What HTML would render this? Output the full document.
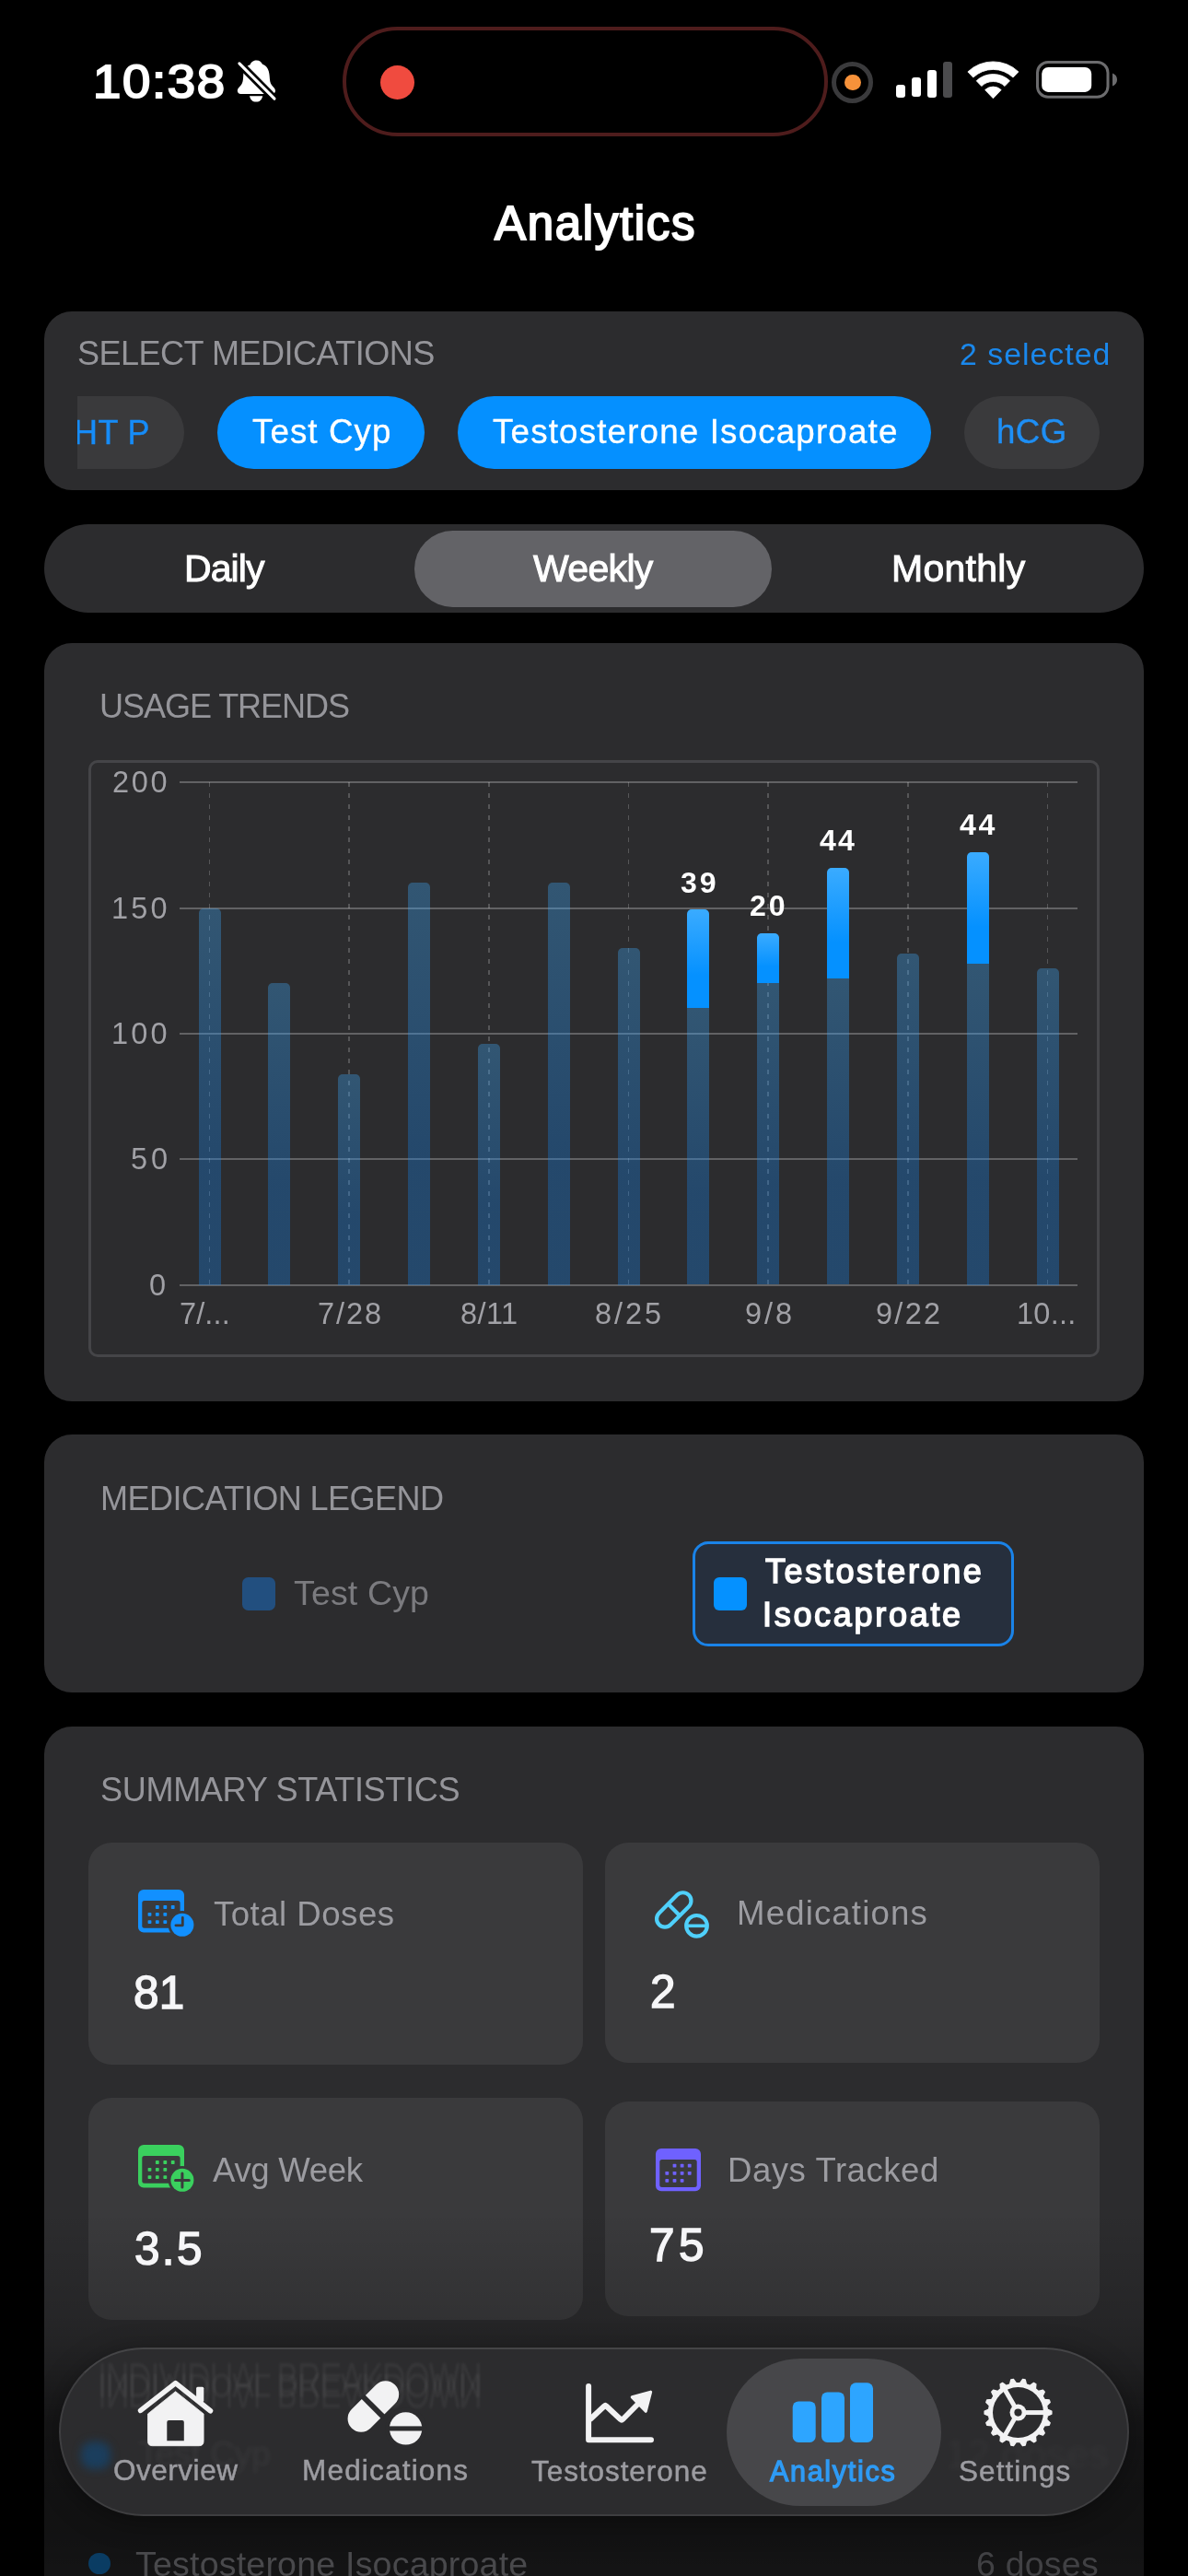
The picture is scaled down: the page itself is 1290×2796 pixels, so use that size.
<!DOCTYPE html>
<html><head><meta charset="utf-8"><title>Analytics</title>
<style>
html,body{margin:0;padding:0;background:#000;}
body{width:1290px;height:2796px;position:relative;overflow:hidden;font-family:"Liberation Sans",sans-serif;}
.abs{position:absolute;}
.t{position:absolute;line-height:1;white-space:nowrap;will-change:transform;}
.card{position:absolute;background:#2c2c2e;}
.chip{position:absolute;top:430px;height:79px;border-radius:40px;}
.tile{position:absolute;background:#3a3a3c;border-radius:25px;}
.bar{position:absolute;width:24px;background:linear-gradient(rgba(62,172,255,0.33) 0%,rgba(20,132,238,0.32) 67%,rgba(20,132,238,0.32) 100%);border-radius:5px 5px 0 0;}
.hi{position:absolute;width:24px;border-radius:5px 5px 0 0;background:linear-gradient(#3aabff 0%,#0591ff 67%,#0591ff 100%);}
.gl{position:absolute;left:195px;width:975px;height:2px;background:rgba(255,255,255,0.26);}
.vl{position:absolute;top:849px;height:546px;width:1.8px;background:repeating-linear-gradient(to bottom,rgba(255,255,255,0.20) 0,rgba(255,255,255,0.20) 5.5px,transparent 5.5px,transparent 12px);}
svg{position:absolute;overflow:visible;}
</style></head>
<body>
<!-- STATUS BAR -->
<div class="abs" style="left:371.5px;top:29px;width:519px;height:110.5px;border:4px solid #4e1c1c;border-radius:60px;background:#000;"></div>
<div class="abs" style="left:412.5px;top:70.7px;width:37px;height:37px;border-radius:50%;background:#f04b3f;"></div>
<svg style="left:257px;top:65px;" width="44" height="47" viewBox="0 0 44 47" ><path fill="#fff" d="M21.4,0.5 C17.5,0.5 15.5,3 14.6,5.2 C9.5,7 7.5,11 7.2,17 C7,22 6.5,25 5,27 C3,29.5 0.8,31 0.8,33.5 C0.8,35.5 2.3,36.9 4.5,36.9 L38.5,36.9 C40.5,36.9 42,35.5 42,33.5 C42,31 39.5,29.5 37.8,27 C36.3,25 36,22 35.6,17 C35.2,11 33,6.5 28,4.8 C27,2.5 25,0.5 21.4,0.5 Z"/><path fill="#fff" d="M14,39.2 L28.2,39.2 C27.5,43 25,45.6 21.1,45.6 C17.2,45.6 14.7,43 14,39.2 Z"/><line x1="2.9" y1="3.9" x2="41" y2="42.2" stroke="#000" stroke-width="8.6" stroke-linecap="butt"/><line x1="2.9" y1="3.9" x2="41" y2="42.2" stroke="#fff" stroke-width="3.1" stroke-linecap="round"/></svg>
<div class="abs" style="left:903px;top:66.5px;width:35px;height:35px;border-radius:50%;border:5.5px solid #3a3a3c;"></div>
<div class="abs" style="left:917.3px;top:80.8px;width:17.4px;height:17.4px;border-radius:50%;background:#f7923a;"></div>
<div class="abs" style="left:972.6px;top:92px;width:10.6px;height:13.5px;border-radius:3px;background:#fff;"></div>
<div class="abs" style="left:989.6px;top:83.6px;width:10.6px;height:21.9px;border-radius:3px;background:#fff;"></div>
<div class="abs" style="left:1006.7px;top:75.5px;width:10.6px;height:30px;border-radius:3px;background:#fff;"></div>
<div class="abs" style="left:1023.7px;top:67px;width:10.6px;height:38.5px;border-radius:3px;background:#4b4b4d;"></div>
<svg style="left:1051px;top:65.5px;" width="55" height="42" viewBox="0 0 55 42" ><path d="M27.4,40.8 L18.64,31.60 A12.7,12.7 0 0 1 36.16,31.60 Z" fill="#fff" stroke="#fff" stroke-width="0.8" stroke-linejoin="round"/><path d="M14.78,27.55 L9.26,21.75 A26.3,26.3 0 0 1 45.54,21.75 L40.02,27.55 A18.3,18.3 0 0 0 14.78,27.55 Z" fill="#fff" stroke="#fff" stroke-width="0.8" stroke-linejoin="round"/><path d="M5.75,18.06 L-0.12,11.91 A39.9,39.9 0 0 1 54.92,11.91 L49.05,18.06 A31.4,31.4 0 0 0 5.75,18.06 Z" fill="#fff" stroke="#fff" stroke-width="0.8" stroke-linejoin="round"/></svg>
<svg style="left:1125px;top:66px;" width="90" height="41" viewBox="0 0 90 41" ><rect x="1.5" y="1.5" width="76.5" height="37.8" rx="11.5" fill="none" stroke="#6c6c6e" stroke-width="3"/><rect x="6.2" y="6.9" width="54" height="27" rx="7" fill="#fff"/><path d="M83,13.6 C86.5,15 88,17.5 88,20.5 C88,23.5 86.5,26 83,27.5 Z" fill="#6c6c6e"/></svg>

<!-- SELECT MEDICATIONS -->
<div class="card" style="left:48px;top:338px;width:1194px;height:194px;border-radius:30px;"></div>
<div class="abs" style="left:84px;top:430px;width:1122px;height:79px;overflow:hidden;">
  <div class="chip" style="top:0;left:-60px;width:176px;background:#3a3a3c;"></div>
  <span class="t" style="left:-3.8px;top:21.9px;font-size:36px;color:#168cf8;-webkit-text-stroke:0.4px #168cf8;letter-spacing:0.4px;">HT P</span>
</div>
<div class="chip" style="left:236px;width:225px;background:#0590ff;"></div>
<div class="chip" style="left:497px;width:514px;background:#0590ff;"></div>
<div class="chip" style="left:1047px;width:147px;background:#3a3a3c;"></div>

<!-- SEGMENTED -->
<div class="card" style="left:48px;top:569px;width:1194px;height:96px;border-radius:48px;background:#2c2c2e;"></div>
<div class="abs" style="left:449.7px;top:575.5px;width:388px;height:83.4px;border-radius:42px;background:#636367;"></div>

<!-- USAGE TRENDS -->
<div class="card" style="left:48px;top:698px;width:1194px;height:823px;border-radius:30px;"></div>
<div class="abs" style="left:95.8px;top:824.5px;width:1092px;height:642px;border:3px solid #454548;border-radius:10px;"></div>
<div class="vl" style="left:226.6px;"></div>
<div class="vl" style="left:378.3px;"></div>
<div class="vl" style="left:529.9px;"></div>
<div class="vl" style="left:681.6px;"></div>
<div class="vl" style="left:833.3px;"></div>
<div class="vl" style="left:984.9px;"></div>
<div class="vl" style="left:1136.6px;"></div>
<div class="gl" style="top:848.0px;"></div>
<div class="gl" style="top:984.6px;"></div>
<div class="gl" style="top:1120.6px;"></div>
<div class="gl" style="top:1257.2px;"></div>
<div class="gl" style="top:1393.5px;"></div>
<div class="bar" style="left:215.5px;top:986.0px;height:408.5px;"></div>
<div class="bar" style="left:291.3px;top:1067.0px;height:327.5px;"></div>
<div class="bar" style="left:367.2px;top:1166.0px;height:228.5px;"></div>
<div class="bar" style="left:443.0px;top:958.0px;height:436.5px;"></div>
<div class="bar" style="left:518.8px;top:1133.0px;height:261.5px;"></div>
<div class="bar" style="left:594.6px;top:958.0px;height:436.5px;"></div>
<div class="bar" style="left:670.5px;top:1029.0px;height:365.5px;"></div>
<div class="bar" style="left:746.3px;top:1094.4px;height:300.1px;border-radius:0;"></div>
<div class="hi" style="left:746.3px;top:987.4px;height:107.0px;"></div>
<div class="bar" style="left:822.1px;top:1066.7px;height:327.8px;border-radius:0;"></div>
<div class="hi" style="left:822.1px;top:1012.6px;height:54.1px;"></div>
<div class="bar" style="left:898.0px;top:1061.6px;height:332.9px;border-radius:0;"></div>
<div class="hi" style="left:898.0px;top:941.7px;height:119.9px;"></div>
<div class="bar" style="left:973.8px;top:1034.8px;height:359.7px;"></div>
<div class="bar" style="left:1049.6px;top:1046.0px;height:348.5px;border-radius:0;"></div>
<div class="hi" style="left:1049.6px;top:924.5px;height:121.5px;"></div>
<div class="bar" style="left:1125.5px;top:1051.0px;height:343.5px;"></div>

<!-- LEGEND -->
<div class="card" style="left:48px;top:1557px;width:1194px;height:280px;border-radius:30px;"></div>
<div class="abs" style="left:263.2px;top:1712px;width:36px;height:36px;border-radius:6.5px;background:#224f7f;"></div>
<div class="abs" style="left:751.5px;top:1672.5px;width:343px;height:108px;border:3px solid #1a83e8;border-radius:17px;background:#262f3d;"></div>
<div class="abs" style="left:775px;top:1712px;width:36px;height:36px;border-radius:6px;background:#0591ff;"></div>

<!-- SUMMARY -->
<div class="card" style="left:48px;top:1874px;width:1194px;height:1000px;border-radius:30px;"></div>
<div class="tile" style="left:96px;top:1999.5px;width:537px;height:241px;"></div>
<div class="tile" style="left:656.5px;top:1999.5px;width:537.5px;height:239.5px;"></div>
<div class="tile" style="left:96px;top:2277px;width:537px;height:240.5px;"></div>
<div class="tile" style="left:656.5px;top:2281px;width:537.5px;height:232.5px;"></div>
<svg style="left:150px;top:2050.5px;" width="66" height="56" viewBox="0 0 66 56" ><rect x="0" y="0" width="50" height="46.6" rx="6" fill="#1290ff"/><rect x="4.3" y="11.9" width="41.3" height="29.8" rx="2.5" fill="#3a3a3c"/><rect x="18.9" y="17.1" width="3.8" height="3.8" rx="0.7" fill="#1290ff"/><rect x="27.4" y="17.1" width="3.8" height="3.8" rx="0.7" fill="#1290ff"/><rect x="35.8" y="17.1" width="3.8" height="3.8" rx="0.7" fill="#1290ff"/><rect x="10.6" y="25.0" width="3.8" height="3.8" rx="0.7" fill="#1290ff"/><rect x="18.9" y="25.0" width="3.8" height="3.8" rx="0.7" fill="#1290ff"/><rect x="27.4" y="25.0" width="3.8" height="3.8" rx="0.7" fill="#1290ff"/><rect x="10.6" y="33.2" width="3.8" height="3.8" rx="0.7" fill="#1290ff"/><rect x="18.9" y="33.2" width="3.8" height="3.8" rx="0.7" fill="#1290ff"/><rect x="27.4" y="33.2" width="3.8" height="3.8" rx="0.7" fill="#1290ff"/><circle cx="47.9" cy="38.3" r="15.3" fill="#3a3a3c"/><circle cx="47.9" cy="38.3" r="12.5" fill="#1290ff"/><path d="M48.3,30.299999999999997 L48.3,38.8 L40.9,38.8" fill="none" stroke="#3a3a3c" stroke-width="2.8" stroke-linecap="round" stroke-linejoin="round"/></svg>
<svg style="left:695px;top:2035px;" width="90" height="80" viewBox="0 0 90 80" ><g transform="rotate(-45 36.8 37.9)" fill="none" stroke="#4fd0fb" stroke-width="4.2"><rect x="14.0" y="29.0" width="45.5" height="17.8" rx="8.9"/><line x1="36.8" y1="29.0" x2="36.8" y2="46.8"/></g><circle cx="61.5" cy="55.3" r="14.9" fill="#3a3a3c"/><circle cx="61.5" cy="55.3" r="11.3" fill="none" stroke="#4fd0fb" stroke-width="4.2"/><line x1="50.5" y1="55.3" x2="72.5" y2="55.3" stroke="#4fd0fb" stroke-width="3.6"/></svg>
<svg style="left:150px;top:2327.5px;" width="66" height="56" viewBox="0 0 66 56" ><rect x="0" y="0" width="50" height="46.6" rx="6" fill="#3ad05e"/><rect x="4.3" y="11.9" width="41.3" height="29.8" rx="2.5" fill="#3a3a3c"/><rect x="18.9" y="17.1" width="3.8" height="3.8" rx="0.7" fill="#3ad05e"/><rect x="27.4" y="17.1" width="3.8" height="3.8" rx="0.7" fill="#3ad05e"/><rect x="35.8" y="17.1" width="3.8" height="3.8" rx="0.7" fill="#3ad05e"/><rect x="10.6" y="25.0" width="3.8" height="3.8" rx="0.7" fill="#3ad05e"/><rect x="18.9" y="25.0" width="3.8" height="3.8" rx="0.7" fill="#3ad05e"/><rect x="27.4" y="25.0" width="3.8" height="3.8" rx="0.7" fill="#3ad05e"/><rect x="10.6" y="33.2" width="3.8" height="3.8" rx="0.7" fill="#3ad05e"/><rect x="18.9" y="33.2" width="3.8" height="3.8" rx="0.7" fill="#3ad05e"/><rect x="27.4" y="33.2" width="3.8" height="3.8" rx="0.7" fill="#3ad05e"/><circle cx="47.9" cy="38.3" r="15.3" fill="#3a3a3c"/><circle cx="47.9" cy="38.3" r="12.5" fill="#3ad05e"/><path d="M40.5,38.4 L55.3,38.4 M47.9,30.9 L47.9,45.9" fill="none" stroke="#3a3a3c" stroke-width="3" stroke-linecap="round"/></svg>
<svg style="left:711.5px;top:2331.8px;" width="50" height="47" viewBox="0 0 50 47" ><rect x="0" y="0" width="49" height="46.3" rx="6" fill="#6f61ff"/><rect x="4.3" y="12" width="40.4" height="29.9" rx="2.5" fill="#3a3a3c"/><rect x="18.6" y="16.8" width="3.8" height="3.8" rx="0.7" fill="#6f61ff"/><rect x="26.7" y="16.8" width="3.8" height="3.8" rx="0.7" fill="#6f61ff"/><rect x="34.8" y="16.8" width="3.8" height="3.8" rx="0.7" fill="#6f61ff"/><rect x="10.4" y="24.9" width="3.8" height="3.8" rx="0.7" fill="#6f61ff"/><rect x="18.6" y="24.9" width="3.8" height="3.8" rx="0.7" fill="#6f61ff"/><rect x="26.7" y="24.9" width="3.8" height="3.8" rx="0.7" fill="#6f61ff"/><rect x="34.8" y="24.9" width="3.8" height="3.8" rx="0.7" fill="#6f61ff"/><rect x="10.4" y="33.0" width="3.8" height="3.8" rx="0.7" fill="#6f61ff"/><rect x="18.6" y="33.0" width="3.8" height="3.8" rx="0.7" fill="#6f61ff"/><rect x="26.7" y="33.0" width="3.8" height="3.8" rx="0.7" fill="#6f61ff"/></svg>

<!-- BOTTOM FADE + TAB BAR -->
<div class="abs" style="left:0;top:2400px;width:1290px;height:396px;background:linear-gradient(rgba(0,0,0,0) 0%,rgba(0,0,0,0.06) 12%,rgba(0,0,0,0.15) 29.5%,rgba(0,0,0,0.22) 37.4%,rgba(0,0,0,0.52) 58%,rgba(0,0,0,0.60) 80%,rgba(0,0,0,0.60) 88%,rgba(0,0,0,0.54) 100%);"></div><div class="abs" style="left:96px;top:2770.5px;width:23.5px;height:23.5px;border-radius:50%;background:#0a3c63;"></div><div class="abs" style="left:64px;top:2548px;width:1158px;height:179px;border-radius:92px;background:#2c2c2e;border:2px solid #3e3e40;border-top-color:#454547;box-shadow:0 6px 30px rgba(0,0,0,0.35);overflow:hidden;"><span class="t" style="left:40px;top:8px;font-size:35.5px;letter-spacing:-1.2px;color:rgba(255,255,255,0.05);filter:blur(1.1px);transform:scaleY(1.5);transform-origin:0 0;">INDIVIDUAL BREAKDOWN</span><span class="t" style="left:40px;top:8px;font-size:35.5px;letter-spacing:-1.2px;color:rgba(255,255,255,0.05);filter:blur(1.1px);transform:translateY(62px) scaleY(-1.5);transform-origin:0 0;">INDIVIDUAL BREAKDOWN</span><div class="abs" style="left:22px;top:100px;width:32px;height:30px;border-radius:40%;background:rgba(10,80,140,0.5);filter:blur(5px);"></div><span class="t" style="left:84px;top:95px;font-size:37px;color:rgba(255,255,255,0.05);filter:blur(2.2px);">Test Cyp</span><span class="t" style="left:960px;top:92px;font-size:44px;color:rgba(255,255,255,0.035);filter:blur(3px);">12 doses</span></div><div class="abs" style="left:789px;top:2560px;width:233px;height:160px;border-radius:80px;background:#47474a;"></div><svg style="left:140px;top:2575px;" width="100" height="90" viewBox="0 0 100 90" ><rect x="73.1" y="15.8" width="8.2" height="16.3" rx="1.5" fill="#f2f2f3"/><path d="M12.6,41.4 L50.6,11.6 L88.5,41.8" fill="none" stroke="#f2f2f3" stroke-width="5.6" stroke-linecap="round" stroke-linejoin="round"/><path d="M50.6,20.7 L81.1,45.0 L81.1,74.7 Q81.1,79.7 76.1,79.7 L25.5,79.7 Q20.5,79.7 20.5,74.7 L20.5,45.0 Z" fill="#f2f2f3" stroke="#f2f2f3" stroke-width="0.8" stroke-linejoin="round"/><path d="M41.3,74.2 L41.3,53.9 Q41.3,51.9 43.3,51.9 L57.8,51.9 Q59.8,51.9 59.8,53.9 L59.8,74.2 Z" fill="#2c2c2e"/></svg><svg style="left:370px;top:2575px;" width="100" height="90" viewBox="0 0 100 90" ><g transform="rotate(-45 35.4 37.1)"><rect x="2.1" y="22.5" width="66.6" height="29.1" rx="14.55" fill="#f2f2f3"/><rect x="32.1" y="21.1" width="5.9" height="32" fill="#2c2c2e"/></g><circle cx="70.6" cy="60.9" r="22.6" fill="#2c2c2e"/><circle cx="70.6" cy="60.9" r="17.7" fill="#f2f2f3"/><rect x="51.6" y="58.4" width="38" height="5.1" fill="#2c2c2e"/></svg><svg style="left:630px;top:2580px;" width="90" height="80" viewBox="0 0 90 80" ><path d="M9.1,10.1 L9.1,68.2 L77.0,68.2" fill="none" stroke="#f2f2f3" stroke-width="6" stroke-linecap="round" stroke-linejoin="round"/><path d="M10.5,46.3 L26.3,31.5 Q27.3,30.5 28.3,31.5 L43.8,46.0 Q45.0,47.2 46.2,46.0 L66.0,26.0" fill="none" stroke="#f2f2f3" stroke-width="6" stroke-linecap="butt" stroke-linejoin="round"/><path d="M76.6,16.2 L56.3,21.9 L71.2,37.2 Z" fill="#f2f2f3" stroke="#f2f2f3" stroke-width="3.2" stroke-linejoin="round"/></svg><svg style="left:855px;top:2580px;" width="100" height="80" viewBox="0 0 100 80" ><rect x="5.7" y="26.5" width="25" height="44.4" rx="6.3" fill="#2da5ff"/><rect x="37.0" y="16.4" width="25" height="54.5" rx="6.3" fill="#2da5ff"/><rect x="68.0" y="6.3" width="25" height="64.6" rx="6.3" fill="#2da5ff"/></svg><svg style="left:1060px;top:2575px;" width="92" height="90" viewBox="0 0 92 90" ><polygon points="77.31,40.14 81.87,42.20 81.87,45.00 77.31,47.06 76.58,51.23 80.16,54.73 79.20,57.35 74.21,57.73 72.09,61.40 74.26,65.91 72.47,68.05 67.65,66.70 64.40,69.42 64.90,74.40 62.48,75.80 58.41,72.88 54.43,74.33 53.19,79.18 50.44,79.66 47.62,75.53 43.38,75.53 40.56,79.66 37.81,79.18 36.57,74.33 32.59,72.88 28.52,75.80 26.10,74.40 26.60,69.42 23.35,66.70 18.53,68.05 16.74,65.91 18.91,61.40 16.79,57.73 11.80,57.35 10.84,54.73 14.42,51.23 13.69,47.06 9.13,45.00 9.13,42.20 13.69,40.14 14.42,35.97 10.84,32.47 11.80,29.85 16.79,29.47 18.91,25.80 16.74,21.29 18.53,19.15 23.35,20.50 26.60,17.78 26.10,12.80 28.52,11.40 32.59,14.32 36.57,12.87 37.81,8.02 40.56,7.54 43.38,11.67 47.62,11.67 50.44,7.54 53.19,8.02 54.43,12.87 58.41,14.32 62.48,11.40 64.90,12.80 64.40,17.78 67.65,20.50 72.47,19.15 74.26,21.29 72.09,25.80 74.21,29.47 79.20,29.85 80.16,32.47 76.58,35.97" fill="#f2f2f3" stroke="#f2f2f3" stroke-width="1.4" stroke-linejoin="round"/><circle cx="45.5" cy="43.6" r="27.5" fill="#2c2c2e"/><line x1="45.5" y1="43.6" x2="74.50" y2="43.60" stroke="#f2f2f3" stroke-width="5"/><line x1="45.5" y1="43.6" x2="31.00" y2="18.49" stroke="#f2f2f3" stroke-width="5"/><line x1="45.5" y1="43.6" x2="31.00" y2="68.71" stroke="#f2f2f3" stroke-width="5"/><circle cx="45.5" cy="43.6" r="9" fill="#f2f2f3"/><circle cx="45.5" cy="43.6" r="4.1" fill="#2c2c2e"/></svg>

<span class="t " style="left:100.7px;top:63.7px;font-size:50px;color:#fff;letter-spacing:1.53px;-webkit-text-stroke:2.0px #fff;paint-order:stroke fill;transform:scaleX(1.09);transform-origin:0 0;">10:38</span>
<span class="t " style="left:537.0px;top:216.8px;font-size:51px;color:#fff;letter-spacing:1.68px;-webkit-text-stroke:2.0px #fff;paint-order:stroke fill;">Analytics</span>
<span class="t " style="left:84.0px;top:366.0px;font-size:36.1px;color:#95959a;letter-spacing:-0.54px;">SELECT MEDICATIONS</span>
<span class="t " style="left:1042.0px;top:368.0px;font-size:33.8px;color:#1a88ec;letter-spacing:1.03px;">2 selected</span>
<span class="t " style="left:273.7px;top:450.6px;font-size:36.7px;color:#fff;letter-spacing:1.09px;-webkit-text-stroke:0.35px #fff;paint-order:stroke fill;">Test Cyp</span>
<span class="t " style="left:534.7px;top:450.6px;font-size:36.7px;color:#fff;letter-spacing:1.19px;-webkit-text-stroke:0.35px #fff;paint-order:stroke fill;">Testosterone Isocaproate</span>
<span class="t " style="left:1082.2px;top:450.6px;font-size:36.7px;color:#1e8ff5;letter-spacing:0.38px;-webkit-text-stroke:0.35px #1e8ff5;paint-order:stroke fill;">hCG</span>
<span class="t " style="left:199.5px;top:596.8px;font-size:41px;color:#fff;letter-spacing:-0.91px;-webkit-text-stroke:1.0px #fff;paint-order:stroke fill;">Daily</span>
<span class="t " style="left:579.0px;top:596.8px;font-size:41px;color:#fff;letter-spacing:-0.67px;-webkit-text-stroke:1.0px #fff;paint-order:stroke fill;">Weekly</span>
<span class="t " style="left:967.5px;top:596.8px;font-size:41px;color:#fff;letter-spacing:0.27px;-webkit-text-stroke:1.0px #fff;paint-order:stroke fill;">Monthly</span>
<span class="t " style="left:108.4px;top:749.1px;font-size:36.1px;color:#95959a;letter-spacing:-1.09px;">USAGE TRENDS</span>
<span class="t " style="left:122.4px;top:833.0px;font-size:32.5px;color:#a1a1a6;letter-spacing:2.73px;">200</span>
<span class="t " style="left:121.4px;top:969.7px;font-size:32.5px;color:#a1a1a6;letter-spacing:3.23px;">150</span>
<span class="t " style="left:121.4px;top:1105.8px;font-size:32.5px;color:#a1a1a6;letter-spacing:3.23px;">100</span>
<span class="t " style="left:142.1px;top:1242.3px;font-size:32.5px;color:#a1a1a6;letter-spacing:3.83px;">50</span>
<span class="t " style="left:161.8px;top:1378.5px;font-size:32.5px;color:#a1a1a6;letter-spacing:0.00px;">0</span>
<span class="t " style="left:195.0px;top:1410.2px;font-size:32.5px;color:#a1a1a6;letter-spacing:0.13px;">7/...</span>
<span class="t " style="left:344.5px;top:1410.2px;font-size:32.5px;color:#a1a1a6;letter-spacing:1.94px;">7/28</span>
<span class="t " style="left:500.0px;top:1410.2px;font-size:32.5px;color:#a1a1a6;letter-spacing:0.41px;">8/11</span>
<span class="t " style="left:646.4px;top:1410.2px;font-size:32.5px;color:#a1a1a6;letter-spacing:2.94px;">8/25</span>
<span class="t " style="left:808.5px;top:1410.2px;font-size:32.5px;color:#a1a1a6;letter-spacing:2.95px;">9/8</span>
<span class="t " style="left:951.0px;top:1410.2px;font-size:32.5px;color:#a1a1a6;letter-spacing:2.27px;">9/22</span>
<span class="t " style="left:1103.7px;top:1410.2px;font-size:32.5px;color:#a1a1a6;letter-spacing:0.27px;">10...</span>
<span class="t " style="left:738.6px;top:943.0px;font-size:31.5px;color:#fff;letter-spacing:2.74px;font-weight:bold;transform:scaleX(1.02);transform-origin:0 0;">39</span>
<span class="t " style="left:814.0px;top:967.9px;font-size:31.5px;color:#fff;letter-spacing:2.76px;font-weight:bold;transform:scaleX(1.02);transform-origin:0 0;">20</span>
<span class="t " style="left:890.2px;top:896.8px;font-size:31.5px;color:#fff;letter-spacing:2.13px;font-weight:bold;transform:scaleX(1.02);transform-origin:0 0;">44</span>
<span class="t " style="left:1041.7px;top:879.7px;font-size:31.5px;color:#fff;letter-spacing:2.52px;font-weight:bold;transform:scaleX(1.02);transform-origin:0 0;">44</span>
<span class="t " style="left:109.4px;top:1609.0px;font-size:36.1px;color:#95959a;letter-spacing:-0.57px;">MEDICATION LEGEND</span>
<span class="t " style="left:318.9px;top:1710.7px;font-size:37.5px;color:#7b7b7f;letter-spacing:0.15px;">Test Cyp</span>
<span class="t " style="left:831.1px;top:1687.7px;font-size:36px;color:#fff;letter-spacing:2.61px;-webkit-text-stroke:1.5px #fff;paint-order:stroke fill;">Testosterone</span>
<span class="t " style="left:828.1px;top:1734.8px;font-size:36px;color:#fff;letter-spacing:2.70px;-webkit-text-stroke:1.5px #fff;paint-order:stroke fill;">Isocaproate</span>
<span class="t " style="left:109.4px;top:1925.1px;font-size:36.1px;color:#95959a;letter-spacing:-0.34px;">SUMMARY STATISTICS</span>
<span class="t " style="left:232.0px;top:2059.9px;font-size:36.6px;color:#9c9ca1;letter-spacing:0.49px;">Total Doses</span>
<span class="t " style="left:145.2px;top:2138.4px;font-size:49.5px;color:#f6f6f8;letter-spacing:0.17px;-webkit-text-stroke:1.4px #f6f6f8;paint-order:stroke fill;">81</span>
<span class="t " style="left:800.0px;top:2059.0px;font-size:36.6px;color:#9c9ca1;letter-spacing:1.16px;">Medications</span>
<span class="t " style="left:706.0px;top:2137.4px;font-size:49.5px;color:#f6f6f8;letter-spacing:0.00px;-webkit-text-stroke:1.4px #f6f6f8;paint-order:stroke fill;">2</span>
<span class="t " style="left:231.3px;top:2337.6px;font-size:36.6px;color:#9c9ca1;letter-spacing:-0.34px;">Avg Week</span>
<span class="t " style="left:146.2px;top:2416.3px;font-size:49.5px;color:#f6f6f8;letter-spacing:2.31px;-webkit-text-stroke:1.4px #f6f6f8;paint-order:stroke fill;">3.5</span>
<span class="t " style="left:790.0px;top:2337.6px;font-size:36.6px;color:#9c9ca1;letter-spacing:0.51px;">Days Tracked</span>
<span class="t " style="left:705.4px;top:2411.9px;font-size:49.5px;color:#f6f6f8;letter-spacing:4.37px;-webkit-text-stroke:1.4px #f6f6f8;paint-order:stroke fill;">75</span>
<span class="t " style="left:146.5px;top:2764.6px;font-size:37.5px;color:#49494c;letter-spacing:0.22px;">Testosterone Isocaproate</span>
<span class="t " style="left:1059.8px;top:2764.6px;font-size:37.5px;color:#414144;letter-spacing:0.22px;">6 doses</span>
<span class="t tab" style="left:123.2px;top:2665.7px;font-size:31.5px;color:#9c9ca1;letter-spacing:0.52px;-webkit-text-stroke:0.5px #9c9ca1;paint-order:stroke fill;">Overview</span>
<span class="t tab" style="left:327.6px;top:2665.7px;font-size:31.5px;color:#9c9ca1;letter-spacing:1.19px;-webkit-text-stroke:0.5px #9c9ca1;paint-order:stroke fill;">Medications</span>
<span class="t tab" style="left:577.2px;top:2666.6px;font-size:31.5px;color:#9c9ca1;letter-spacing:0.94px;-webkit-text-stroke:0.5px #9c9ca1;paint-order:stroke fill;">Testosterone</span>
<span class="t tab" style="left:835.6px;top:2667.0px;font-size:30.5px;color:#2e9bf5;letter-spacing:1.70px;-webkit-text-stroke:1.3px #2e9bf5;paint-order:stroke fill;">Analytics</span>
<span class="t tab" style="left:1041.2px;top:2666.6px;font-size:31.5px;color:#9c9ca1;letter-spacing:1.06px;-webkit-text-stroke:0.5px #9c9ca1;paint-order:stroke fill;">Settings</span>
</body></html>
